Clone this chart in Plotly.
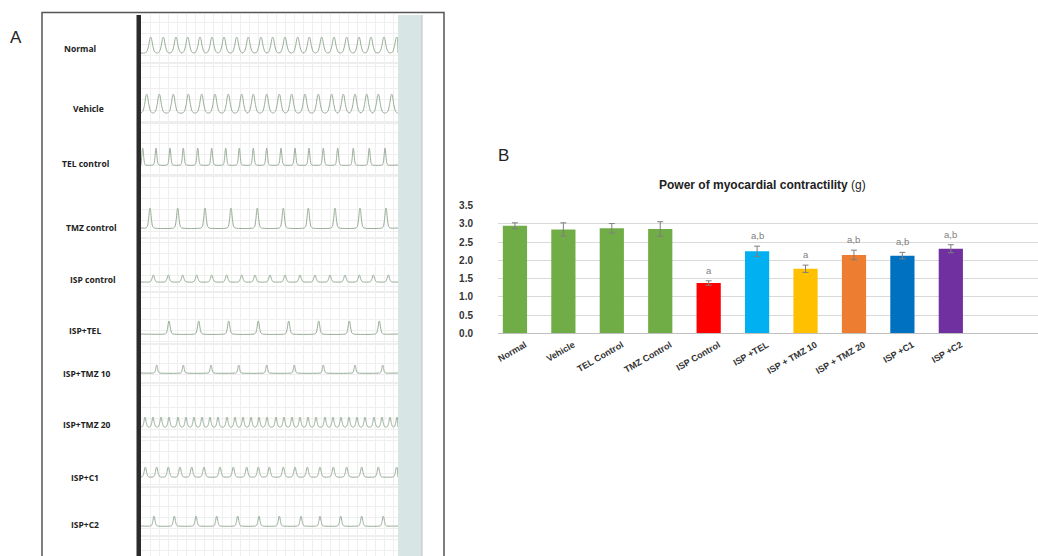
import plotly.graph_objects as go

W, H = 1038, 556

# ---------------- Panel A data (ECG traces) ----------------
row_labels = ["Normal", "Vehicle", "TEL control", "TMZ control", "ISP control",
              "ISP+TEL", "ISP+TMZ 10", "ISP+TMZ 20", "ISP+C1", "ISP+C2"]

peaks_normal = [9.7, 22.3, 35, 46.7, 59, 71, 83, 95.7, 107.3, 120, 131.7, 144, 156.7,
                168.3, 180.7, 193, 205.7, 218, 230, 243, 255.7]
peaks_vehicle = [5.7, 18.3, 32.3, 47.3, 60.7, 74, 87.3, 100.7, 112.3, 125.7, 138.3, 150.7,
                 164, 177.3, 190.7, 202.3, 214, 225.7, 237.3, 250.7]
peaks_tel = [1.7, 15, 29, 42.3, 56.7, 70.7, 84.7, 98.3, 112.3, 125.7, 140, 154, 168, 182.3,
             196.7, 212.3, 228.3, 244]
peaks_tmz = [9, 36.7, 64, 90, 116.3, 142.3, 167.3, 194, 219, 245]
peaks_isp = [12.3, 27.3, 41.7, 55.7, 70.7, 85.7, 100.7, 114, 129, 144, 159, 174, 189, 204,
             218.3, 232.3, 247.3]
peaks_isp_tel = [28, 57.7, 87.7, 117.3, 147.7, 177.7, 208.3, 238.3]
peaks_isp_tmz10 = [15.7, 42.3, 70, 97.7, 125.7, 153.3, 182.3, 214, 241.7]
peaks_isp_tmz20 = [4, 12, 20, 28, 37, 45, 53, 61, 69, 77, 86, 94, 102, 110, 118, 126, 135,
                   143, 151, 159, 167, 175, 184, 192, 200, 208, 216, 224, 233, 241, 249, 256]
peaks_isp_c1 = [4.3, 15.7, 27.3, 39, 50.7, 63, 79, 92.3, 105.7, 117.3, 128.3, 142.3, 154,
                166.3, 179, 192.3, 205.7, 220.7, 237.3, 255.7]
peaks_isp_c2 = [13, 33.3, 55, 75.7, 96.7, 118, 138.3, 160, 179, 199.7, 220.7, 242.3]

row_peaks = [peaks_normal, peaks_vehicle, peaks_tel, peaks_tmz, peaks_isp, peaks_isp_tel,
             peaks_isp_tmz10, peaks_isp_tmz20, peaks_isp_c1, peaks_isp_c2]
row_amplitude = [16, 19, 17, 20, 7, 13, 8, 10, 10, 10]

# ---------------- Panel B data (bar chart) ----------------
groups = ["Normal", "Vehicle", "TEL Control", "TMZ Control", "ISP Control", "ISP +TEL",
          "ISP + TMZ 10", "ISP + TMZ 20", "ISP +C1", "ISP +C2"]
contractility = [2.95, 2.85, 2.88, 2.86, 1.38, 2.25, 1.77, 2.15, 2.13, 2.32]
sem = [0.08, 0.18, 0.13, 0.20, 0.06, 0.14, 0.10, 0.13, 0.09, 0.11]
significance = ["", "", "", "", "a", "a,b", "a", "a,b", "a,b", "a,b"]
y_ticks = [0.0, 0.5, 1.0, 1.5, 2.0, 2.5, 3.0, 3.5]

# ---------------- layout / style constants ----------------
row_baseline_px = [53, 113, 165, 228, 282, 334, 373, 427, 477, 526]
row_label_y_px = [48, 108, 164, 227, 279, 330, 373, 424, 477, 524]
row_label_x_px = [80, 88, 85, 91, 93, 85, 87, 87, 85, 85]
row_halfwidth = [6, 6, 3, 4, 4, 4, 3, 3.5, 4, 3.5]
bar_colors = ["#70ad47", "#70ad47", "#70ad47", "#70ad47", "#ff0000", "#00b0f0",
              "#ffc000", "#ed7d31", "#0070c0", "#7030a0"]

TRACE_X0, TRACE_X1 = 141, 398
TRACE_LEN = TRACE_X1 - TRACE_X0


def px(x):
    return x / W


def py(y):
    return 1 - y / H


shape_dt = [-1.0, -0.65, -0.35, -0.12, 0.0, 0.12, 0.35, 0.65, 1.0]
shape_h = [0.0, 0.08, 0.45, 0.92, 1.0, 0.92, 0.45, 0.08, 0.0]

fig = go.Figure()

for i, peaks in enumerate(row_peaks):
    base = row_baseline_px[i]
    amp = row_amplitude[i]
    w = row_halfwidth[i]
    xs, ys = [0], [base]
    for p in peaks:
        for dt, h in zip(shape_dt, shape_h):
            x = p + dt * w
            if 0 <= x <= TRACE_LEN:
                xs.append(x)
                ys.append(base - h * amp)
    xs.append(TRACE_LEN)
    ys.append(base)
    fig.add_trace(go.Scatter(x=xs, y=ys, mode="lines", xaxis="x", yaxis="y",
                             line=dict(color="#98ad98", width=1, shape="spline",
                                       smoothing=0.6),
                             showlegend=False, hoverinfo="skip"))

# Panel B bars
fig.add_trace(go.Bar(
    x=groups, y=contractility, xaxis="x2", yaxis="y2",
    marker=dict(color=bar_colors, line=dict(width=0)),
    width=0.5,
    error_y=dict(type="data", array=sem, color="#7f7f7f", thickness=1, width=3),
    showlegend=False,
))

fig.update_layout(
    width=W, height=H, autosize=False,
    margin=dict(l=0, r=0, t=0, b=0, pad=0),
    paper_bgcolor="white", plot_bgcolor="rgba(0,0,0,0)",
    font=dict(family="Liberation Sans, Arial, sans-serif", color="#333"),
    xaxis=dict(domain=[px(TRACE_X0), px(TRACE_X1)], range=[0, TRACE_LEN],
               showticklabels=False, showgrid=True, gridcolor="#efefef", gridwidth=1,
               dtick=9, zeroline=False, showline=False, fixedrange=True,
               automargin=False, ticks=""),
    yaxis=dict(domain=[0, py(14)], range=[H, 14], showticklabels=False,
               showgrid=True, gridcolor="#efefef", dtick=11, zeroline=False,
               showline=False, fixedrange=True, automargin=False, ticks=""),
    xaxis2=dict(domain=[px(498), 1], range=[-0.35, 10.8], anchor="y2",
                tickangle=-30, tickmode="array", tickvals=groups,
                ticktext=["<b>" + g + "</b>" for g in groups],
                ticklabelshift=10, ticklabelstandoff=2,
                tickfont=dict(size=9, color="#333", family="Liberation Sans, Arial"),
                showgrid=False, showline=True, linecolor="#bfbfbf", linewidth=1,
                ticks="", zeroline=False, automargin=False),
    yaxis2=dict(domain=[py(333.3), py(205.7)], range=[0, 3.5], anchor="x2",
                tickmode="array", tickvals=y_ticks,
                ticktext=["<b>%.1f</b>" % t for t in y_ticks],
                showgrid=True, gridcolor="#d9d9d9",
                gridwidth=1, zeroline=False, showline=False, ticks="",
                ticklabelstandoff=24, automargin=False,
                tickfont=dict(size=10, color="#333", family="Liberation Sans, Arial")),
    bargap=0.5,
)

shapes = []
# Panel A frame
shapes.append(dict(type="rect", xref="paper", yref="paper", x0=px(42), x1=px(444),
                   y0=-0.05, y1=py(12.5), line=dict(color="#555", width=1.5),
                   fillcolor="rgba(0,0,0,0)", layer="above"))
# dark left bar
shapes.append(dict(type="rect", xref="paper", yref="paper", x0=px(136.5), x1=px(141),
                   y0=-0.05, y1=py(15), line=dict(width=0), fillcolor="#2b2b2b"))
# right scale strip
shapes.append(dict(type="rect", xref="paper", yref="paper", x0=px(398), x1=px(422),
                   y0=-0.05, y1=py(15), line=dict(width=0), fillcolor="#d7e5e5",
                   layer="below"))
shapes.append(dict(type="line", xref="paper", yref="paper", x0=px(422), x1=px(422),
                   y0=-0.05, y1=py(15), line=dict(color="#b8c4c4", width=1)))
# row separator lines
for yb in row_baseline_px:
    shapes.append(dict(type="line", xref="x", yref="y", x0=0, x1=TRACE_LEN,
                       y0=yb + 10, y1=yb + 10, line=dict(color="#dcdcdc", width=1),
                       layer="below"))
fig.update_layout(shapes=shapes)

annotations = []
for lab, xl, yl in zip(row_labels, row_label_x_px, row_label_y_px):
    annotations.append(dict(text="<b>" + lab + "</b>", x=px(xl), y=py(yl), xref="paper",
                            yref="paper", showarrow=False, xanchor="center",
                            yanchor="middle",
                            font=dict(size=8.5, color="#222",
                                      family="Open Sans, Liberation Sans")))
annotations.append(dict(text="A", x=px(16), y=py(37), xref="paper", yref="paper",
                        showarrow=False, xanchor="center", yanchor="middle",
                        font=dict(size=17, color="#222", family="Liberation Sans")))
annotations.append(dict(text="B", x=px(503), y=py(155), xref="paper", yref="paper",
                        showarrow=False, xanchor="center", yanchor="middle",
                        font=dict(size=17, color="#222", family="Liberation Sans")))
annotations.append(dict(text="<b>Power of myocardial contractility</b> (g)",
                        x=px(762), y=py(185), xref="paper", yref="paper",
                        showarrow=False, xanchor="center", yanchor="middle",
                        font=dict(size=12, color="#222", family="Liberation Sans")))
for g, v, e, s in zip(groups, contractility, sem, significance):
    if s:
        annotations.append(dict(text=s, x=g, y=v + e, xref="x2", yref="y2",
                                showarrow=False, yanchor="bottom", yshift=3,
                                font=dict(size=9.5, color="#808080",
                                          family="Liberation Sans")))
fig.update_layout(annotations=annotations)

fig.write_html("out.html", config={"displayModeBar": False},
               post_script="document.body.style.margin='0';document.body.style.padding='0';")
